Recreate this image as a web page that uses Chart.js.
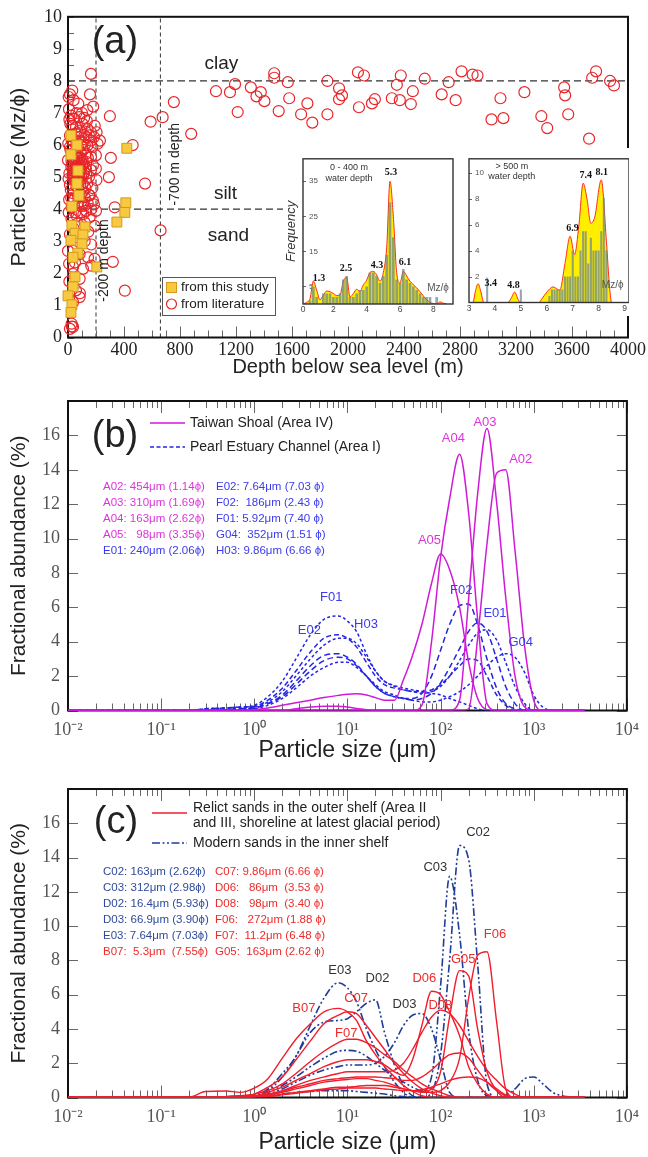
<!DOCTYPE html>
<html>
<head>
<meta charset="utf-8">
<script src="https://cdn.jsdelivr.net/npm/chart.js@4.4.1/dist/chart.umd.min.js"></script>
<style>
  html, body { margin: 0; padding: 0; background: #fff; }
  #page { position: relative; width: 648px; height: 1157px; overflow: hidden; background: #fff; }
  #page canvas { position: absolute; }
</style>
</head>
<body>
<div id="page">
  <canvas id="chart-a" width="648" height="380" style="left:0px;top:0px"></canvas>
  <canvas id="inset-shallow" width="172" height="168" style="left:283px;top:148px"></canvas>
  <canvas id="inset-deep" width="174" height="168" style="left:455px;top:148px"></canvas>
  <canvas id="chart-b" width="648" height="385" style="left:0px;top:380px"></canvas>
  <canvas id="chart-c" width="648" height="392" style="left:0px;top:765px"></canvas>
</div>
<script>
const SANS = '"Liberation Sans", Arial, sans-serif';
const SERIF = '"Liberation Serif", "Times New Roman", serif';

// ---------- (a) mean grain size vs water depth ----------
const studyPts = [[21,6.3],[64,6.0],[21,5.7],[71,5.2],[64,4.8],[78,4.43],[28,4.09],[28,3.5],[121,3.45],[50,3.25],
  [107,3.2],[21,3.03],[100,2.92],[71,2.63],[36,2.5],[206,2.2],[50,1.89],[36,1.58],[0,1.3],[28,1.02],
  [21,0.78],[420,5.9],[413,4.2],[406,3.9],[349,3.6]];

const literaturePts = [
  [164,8.22],[14,7.58],[157,7.58],[73,7.29],[7,7.12],[138,7.09],[40,7.4],[100,7.0],[180,7.2],[115,6.85],
  [21,6.92],[45,6.82],[81,6.87],[17,6.66],[104,6.66],[57,6.56],[140,6.5],[191,6.6],[30,6.6],[97,6.4],
  [164,6.4],[204,6.4],[14,6.3],[128,6.25],[185,6.25],[150,6.3],[75,6.25],[228,6.14],[164,6.14],[104,6.09],
  [60,6.1],[211,6.04],[138,5.99],[90,6.0],[120,6.0],[14,5.94],[174,5.94],[90,5.78],[68,5.75],[128,5.73],
  [36,5.63],[164,5.63],[199,5.68],[88,5.6],[60,5.6],[45,5.55],[0,5.53],[104,5.53],[131,5.48],[25,5.5],
  [75,5.45],[30,5.4],[178,5.37],[55,5.35],[100,5.35],[24,5.32],[70,5.3],[90,5.27],[128,5.27],[199,5.27],
  [40,5.25],[164,5.22],[85,5.2],[35,5.2],[48,5.17],[115,5.15],[10,5.12],[65,5.1],[110,5.07],[42,5.05],
  [80,5.05],[150,5.01],[95,5.0],[36,4.96],[90,4.91],[203,4.91],[50,4.9],[58,4.85],[138,4.81],[105,4.8],
  [14,4.76],[60,4.71],[174,4.66],[125,4.65],[20,4.6],[110,4.56],[36,4.5],[150,4.45],[154,4.43],[73,4.4],
  [119,4.38],[178,4.27],[95,4.25],[73,4.22],[140,4.2],[185,4.15],[119,4.11],[26,4.06],[166,4.0],[200,3.95],
  [130,3.95],[97,3.9],[110,3.85],[62,3.79],[154,3.74],[25,3.7],[119,3.59],[190,3.48],[40,3.4],[14,3.22],
  [50,3.12],[119,3.0],[166,2.9],[36,2.7],[0,2.7],[83,2.6],[143,2.5],[190,2.45],[50,2.34],[36,2.2],
  [166,2.24],[107,2.14],[36,1.98],[83,1.83],[57,1.47],[85,1.38],[83,1.26],[36,1.1],[26,0.43],[36,0.33],
  [14,0.27],[28,0.34],
  [52,5.45],[62,5.25],[78,5.35],[95,5.5],[47,5.0],[67,4.95],[82,5.6],[58,5.7],[32,5.05],[112,5.4],
  [72,4.65],[45,4.3],[88,4.75],[100,4.1],[55,6.35],[85,6.45],[26,6.15],[118,6.3],[10,6.8],[5,7.5],
  [8,4.3],[5,3.9],[8,2.3],[10,1.75],[60,7.0],[135,6.75],[30,7.7],[50,3.9],[68,3.55],[145,3.3],
  [2,6.05],[4,4.95],[18,5.85],[92,4.45],[108,5.85],[23,4.35],[130,5.1],[142,5.6],[40,6.1],[70,5.95],
  [299,6.9],[306,5.6],[292,5.0],[334,4.06],[320,2.36],[406,1.46],[462,6.0],[550,4.8],[590,6.73],[676,6.87],
  [756,7.34],[661,3.34],[880,6.35],[1057,7.68],[1157,7.65],[1193,7.9],[1212,7.03],[1306,7.8],[1346,7.52],[1377,7.65],
  [1403,7.37],[1505,7.06],[1473,8.24],[1473,8.1],[1570,7.96],[1580,7.46],[1665,6.96],[1710,7.3],[1745,6.7],[1853,6.96],
  [1853,8.0],[1936,7.77],[1957,7.55],[1936,7.43],[2071,8.27],[2114,8.17],[2078,7.18],[2171,7.3],[2192,7.43],[2313,7.46],
  [2349,7.88],[2377,8.17],[2370,7.4],[2449,7.28],[2463,7.68],[2548,8.07],[2669,7.58],[2719,7.96],[2769,7.4],[2811,8.3],
  [2890,8.2],[2925,8.17],[3025,6.8],[3089,7.46],[3110,6.84],[3260,7.65],[3381,6.9],[3423,6.53],[3544,7.8],[3551,7.55],
  [3573,6.96],[3722,6.2],[3744,8.1],[3772,8.3],[3872,8.0],[3900,7.86]
];

// inset: 0-400 m water depth
const shallowPhi = [0.2,0.4,0.6,0.8,1.0,1.2,1.4,1.6,1.8,2.0,2.2,2.4,2.6,2.8,3.0,3.2,3.4,3.6,3.8,4.0,4.2,4.4,
  4.6,4.8,5.0,5.2,5.4,5.6,5.8,6.0,6.2,6.4,6.6,6.8,7.0,7.2,7.4,7.6,7.8,8.0,8.2,8.4,8.6,8.8];
const shallowCounts = [0,0,1,5,2,0,3,3,3,2,2,3,7,8,2,2,3,4,4,5,9,9,
  8,6,8,14,29,19,7,6,10,7,6,5,4,3,2,2,2,0,2,0,0,0];
const shallowDensity = [0,0.5,1.5,6.5,4.0,1.2,2.5,3.7,3.5,3.0,2.4,2.6,6.5,7.6,2.0,3.0,4.2,3.6,5.5,6.8,9.0,9.3,
  8.3,6.5,9.0,16,35,25,9,6,9.3,8,6.5,5.5,4.6,3.5,2.3,1.2,0.5,0.1,0,0.6,0.2,0];

// inset: > 500 m water depth
const deepPhi = [3.7,5.0,6.1,6.2,6.3,6.4,6.5,6.6,6.7,6.8,6.9,7.0,7.1,7.2,7.3,7.4,7.5,7.6,7.7,7.8,7.9,8.0,8.1,8.2,8.3];
const deepCounts = [1.9,1.0,0.5,1,1,1,1,1,2,2,2,4,2,2,4,5.5,5.5,3,5,4,4,4,5.5,8.1,4];
const deepCurvePhi = [3.0,3.15,3.25,3.35,3.45,3.57,3.7,4.5,4.62,4.76,4.9,5.0,5.7,5.8,6.0,6.24,6.5,6.7,6.9,7.07,
  7.24,7.4,7.55,7.7,7.85,8.1,8.3,8.42,8.5,9.0];
const deepCurveFreq = [0,0,0.9,1.45,0.9,0,0,0,0.3,0.8,0.2,0,0,0.25,0.8,1.2,0.95,3.0,5.1,3.7,
  6.0,9.2,8.0,6.1,6.6,9.45,4.7,1.2,0,0];

// ---------- (b), (c) grain size distributions ----------
const sizeGrid = [0.01,0.1,0.2,0.3,0.5,0.7,1,1.4,2,2.8,
  4,5.6,8,10,12.5,16,20,25,32,40,
  50,63,80,100,125,160,200,250,315,400,
  500,630,800,1000,1250,1600,2000,3500];
const sizeTicks = [0.01,0.1,1,10,100,1000,10000];
const sizeTickLabels = ['10⁻²','10⁻¹','10⁰','10¹','10²','10³','10⁴'];

// Taiwan Shoal (Area IV)
const A02 = [0,0,0,0,0,0,0,0,0,0, 0,0,0,0,0,0,0,0,0,0, 0,0,0,0,0,0,0.1,4.2,9.7,13.8, 14.0,9.3,3.7,0.6,0,0,0,0];
const A03 = [0,0,0,0,0,0,0,0,0,0, 0,0,0,0,0,0,0,0,0,0, 0,0,0,0,0,0.6,6.5,12.6,16.4,12.1, 6.6,2.0,0.2,0,0,0,0,0];
const A04 = [0,0,0,0,0,0,0,0,0,0.1, 0.2,0.25,0.25,0.2,0.12,0.05,0,0,0,0, 0,0.3,4.0,8.9,12.3,14.9,11.5,5.3,0.4,0, 0,0,0,0,0,0,0,0];
const A05 = [0,0,0,0,0,0,0.05,0.15,0.3,0.45, 0.6,0.75,0.88,0.95,0.97,0.9,0.75,0.6,0.6,1.8, 3.2,5.0,7.4,9.1,8.2,6.0,2.8,0.7,0.05,0, 0,0,0,0,0,0,0,0];
// Pearl Estuary Channel (Area I)
const F01 = [0,0,0,0.1,0.15,0.2,0.3,0.8,1.7,3.0, 4.4,5.3,5.5,5.2,4.6,3.3,2.3,1.7,1.45,1.3, 1.2,1.1,1.0,0.9,0.7,0.5,0.3,0.1,0,0, 0,0,0,0,0,0,0,0];
const E02 = [0,0,0,0.1,0.15,0.2,0.25,0.6,1.3,2.3, 3.4,4.2,4.4,4.2,3.7,2.8,2.0,1.5,1.3,1.2, 1.1,1.1,1.2,1.5,2.0,2.6,3.0,2.9,2.0,0.9, 0.3,0,0,0,0,0,0,0];
const H03 = [0,0,0,0.05,0.1,0.15,0.2,0.5,1.1,2.0, 3.0,3.8,4.2,4.2,3.9,3.1,2.3,1.7,1.4,1.2, 1.1,1.0,1.1,1.4,2.0,2.9,3.8,4.5,4.7,4.1, 2.8,1.4,0.4,0,0,0,0,0];
const F02 = [0,0,0,0,0.05,0.1,0.15,0.4,0.9,1.7, 2.6,3.2,3.3,3.1,2.7,2.0,1.4,1.0,0.8,0.7, 0.7,1.0,2.0,3.5,5.0,6.1,6.2,5.0,3.0,1.3, 0.4,0.1,0,0,0,0,0,0];
const E01 = [0,0,0,0,0.05,0.1,0.15,0.4,0.8,1.5, 2.3,2.9,3.1,3.0,2.6,2.0,1.4,1.0,0.8,0.7, 0.6,0.7,1.0,1.6,2.5,3.6,4.6,5.1,4.6,3.0, 1.4,0.4,0,0,0,0,0,0];
const G04 = [0,0,0,0,0,0.05,0.1,0.3,0.7,1.3, 2.0,2.5,2.8,2.8,2.5,2.0,1.5,1.1,0.9,0.7, 0.6,0.5,0.5,0.6,0.8,1.1,1.5,2.0,2.6,3.1, 3.3,3.1,2.2,0.9,0.2,0,0,0];

// relict sands, outer shelf (Area II and III)
const B07 = [0,0,0.02,0.35,0.38,0.3,0.55,1.1,2.3,3.4, 4.3,5.0,5.2,5.0,4.5,3.3,2.5,1.8,1.2,0.7, 0.35,0.1,0,0,0,0,0,0,0,0, 0,0,0,0,0,0,0,0];
const C07 = [0,0,0,0,0.05,0.1,0.2,0.6,1.2,2.2, 3.3,4.3,4.8,5.0,4.9,4.2,3.5,2.8,2.0,1.4, 0.9,0.5,0.25,0.1,0,0,0,0,0,0, 0,0,0,0,0,0,0,0];
const F07 = [0,0,0,0,0.05,0.1,0.2,0.4,0.8,1.4, 2.1,2.7,3.2,3.4,3.4,3.2,2.9,2.5,2.1,1.6, 1.2,0.8,0.5,0.3,0.1,0,0,0,0,0, 0,0,0,0,0,0,0,0];
const D06 = [0,0,0,0,0,0.05,0.1,0.3,0.6,1.0, 1.4,1.8,2.1,2.2,2.2,2.2,2.1,1.9,1.5,1.3, 2.2,4.2,6.2,6.0,5.0,3.6,1.8,0.8,0.2,0, 0,0,0,0,0,0,0,0];
const D08 = [0,0,0,0,0,0.05,0.1,0.2,0.4,0.7, 1.0,1.2,1.4,1.5,1.5,1.5,1.5,1.5,1.6,2.0, 2.8,3.8,4.7,5.1,4.9,4.2,3.3,2.4,1.6,1.0, 0.5,0.2,0,0,0,0,0,0];
const G05 = [0,0,0,0,0,0,0.05,0.15,0.3,0.5, 0.7,0.9,1.0,1.05,1.1,1.1,1.0,0.9,0.7,0.5, 0.4,0.35,0.5,1.5,4.7,7.4,7.1,4.0,1.5,0.4, 0,0,0,0,0,0,0,0];
const F06 = [0,0,0,0,0,0,0.05,0.1,0.2,0.3, 0.4,0.5,0.6,0.6,0.65,0.7,0.7,0.7,0.6,0.5, 0.4,0.3,0.3,0.4,0.9,2.3,5.8,8.3,8.5,4.4, 0.5,0,0,0,0,0,0,0];
const relictX = [0,0,0,0,0,0,0.05,0.15,0.35,0.6, 0.8,1.0,1.1,1.15,1.2,1.2,1.2,1.15,1.1,1.0, 1.0,1.2,1.6,2.1,2.5,2.6,2.3,1.6,0.9,0.4, 0.1,0,0,0,0,0,0,0];
const relictY = [0,0,0,0,0,0,0,0.05,0.15,0.25, 0.35,0.45,0.5,0.55,0.55,0.55,0.55,0.5,0.45,0.4, 0.4,0.45,0.6,0.8,1.0,1.15,1.2,1.15,0.9,0.5, 0.15,0,0,0,0,0,0,0];
// modern sands, inner shelf
const C02 = [0,0,0,0,0,0,0,0.1,0.2,0.3, 0.35,0.4,0.4,0.4,0.35,0.3,0.25,0.2,0.1,0.05, 0,0,0.3,2.5,8.0,14.7,13.9,7.8,0.8,0, 0.1,0.5,1.1,1.2,0.8,0.3,0.1,0];
const C03 = [0,0,0,0,0,0,0.1,0.3,0.7,1.2, 1.8,2.3,2.7,2.75,2.7,2.4,2.0,1.6,1.2,0.9, 0.6,0.4,1.2,6.5,12.9,9.5,3.9,1.0,0.1,0, 0,0,0,0,0,0,0,0];
const D02 = [0,0,0,0,0,0,0.1,0.4,1.2,2.4, 3.8,4.4,4.5,4.6,5.0,5.5,5.7,3.8,1.9,0.7, 0.1,0,0,0,0,0,0,0,0,0, 0,0,0,0,0,0,0,0];
const E03 = [0,0,0,0,0,0,0.1,0.5,1.4,2.4, 4.2,5.8,6.7,6.4,5.6,4.0,2.8,1.8,0.9,0.3, 0,0,0,0,0,0,0,0,0,0, 0,0,0,0,0,0,0,0];
const D03 = [0,0,0,0,0,0,0.05,0.2,0.5,0.9, 1.3,1.6,1.8,1.9,1.9,1.9,2.0,2.4,3.2,4.2, 4.8,4.9,4.0,2.2,0.3,0,0,0,0,0, 0,0,0,0,0,0,0,0];

// ---------- helpers ----------
function range(a, b, step) {
  const out = [];
  for (let v = a; v <= b + 1e-9; v += step) out.push(+v.toFixed(4));
  return out;
}
const logMinor = [];
for (let e = -2; e < 4; e++) for (let k = 2; k < 10; k++) logMinor.push(k * Math.pow(10, e));

function decor(cfg) {
  const frame = (chart) => {
    const {ctx, chartArea: a} = chart;
    ctx.save();
    ctx.strokeStyle = cfg.frameColor || '#111';
    ctx.lineWidth = cfg.frameWidth || 2;
    ctx.strokeRect(a.left, a.top, a.right - a.left, a.bottom - a.top);
    ctx.restore();
  };
  return {
    id: 'decor',
    beforeDraw(chart) {
      if (!cfg.bg) return;
      chart.ctx.save();
      chart.ctx.fillStyle = cfg.bg;
      chart.ctx.fillRect(0, 0, chart.width, chart.height);
      chart.ctx.restore();
    },
    beforeDatasetsDraw(chart) {
      const {ctx, chartArea: a, scales} = chart;
      ctx.save();
      (cfg.refLines || []).forEach(l => {
        ctx.beginPath();
        ctx.setLineDash(l.dash);
        ctx.strokeStyle = '#333';
        ctx.lineWidth = l.width || 1.2;
        ctx.moveTo(scales.x.getPixelForValue(l.x1), scales.y.getPixelForValue(l.y1));
        ctx.lineTo(scales.x.getPixelForValue(l.x2), scales.y.getPixelForValue(l.y2));
        ctx.stroke();
      });
      ctx.setLineDash([]);
      ctx.strokeStyle = cfg.tickColor || '#666';
      ctx.lineWidth = 1;
      (cfg.marks || []).forEach(m => {
        const sc = scales[m.axis];
        m.at.forEach(v => {
          const p = Math.round(sc.getPixelForValue(v)) + 0.5;
          ctx.beginPath();
          if (m.side === 'bottom') { ctx.moveTo(p, a.bottom); ctx.lineTo(p, a.bottom - m.len); }
          if (m.side === 'top') { ctx.moveTo(p, a.top); ctx.lineTo(p, a.top + m.len); }
          if (m.side === 'left') { ctx.moveTo(a.left, p); ctx.lineTo(a.left + m.len, p); }
          if (m.side === 'right') { ctx.moveTo(a.right, p); ctx.lineTo(a.right - m.len, p); }
          ctx.stroke();
        });
      });
      ctx.restore();
      if (!cfg.frameOnTop) frame(chart);
    },
    afterDatasetsDraw(chart) {
      if (cfg.frameOnTop) frame(chart);
    },
    afterDraw(chart) {
      const {ctx, scales} = chart;
      if (cfg.extra) cfg.extra(ctx, chart);
      (cfg.texts || []).forEach(t => {
        const x = t.px ? t.x : scales.x.getPixelForValue(t.x);
        const y = t.px ? t.y : scales.y.getPixelForValue(t.y);
        ctx.save();
        ctx.font = t.font;
        ctx.fillStyle = t.color || '#222';
        ctx.textAlign = t.align || 'center';
        ctx.textBaseline = 'middle';
        ctx.translate(x, y);
        if (t.rot) ctx.rotate(t.rot);
        ctx.fillText(t.s, 0, 0);
        ctx.restore();
      });
    }
  };
}

function seg(ctx, x1, x2, y, color, width, dash) {
  ctx.save();
  ctx.beginPath();
  ctx.setLineDash(dash || []);
  ctx.strokeStyle = color;
  ctx.lineWidth = width;
  ctx.moveTo(x1, y);
  ctx.lineTo(x2, y);
  ctx.stroke();
  ctx.restore();
}

const baseOpts = {
  responsive: false,
  animation: false,
  devicePixelRatio: 1,
  events: [],
  plugins: { legend: { display: false }, tooltip: { enabled: false } }
};

// ---------- panel (a) ----------
new Chart(document.getElementById('chart-a'), {
  type: 'scatter',
  data: {
    datasets: [{
      label: 'from this study',
      data: studyPts.map(([x, y]) => ({x, y})),
      pointStyle: 'rect',
      pointRadius: 7,
      backgroundColor: '#f8c840',
      borderColor: '#d39a1c',
      borderWidth: 1,
      clip: false
    }, {
      label: 'from literature',
      data: literaturePts.map(([x, y]) => ({x, y})),
      pointStyle: 'circle',
      pointRadius: 5.5,
      backgroundColor: 'rgba(0,0,0,0)',
      borderColor: '#e8262a',
      borderWidth: 1.2,
      clip: false
    }]
  },
  options: {
    ...baseOpts,
    layout: { padding: { top: 14.5, right: 18, left: 0, bottom: 0 } },
    scales: {
      x: {
        type: 'linear', min: 0, max: 4000,
        afterFit: s => { s.height = 42.5; },
        grid: { display: false, drawTicks: false }, border: { display: false },
        ticks: { stepSize: 400, padding: 2, autoSkip: false, maxRotation: 0, color: '#222',
                 font: { family: SERIF, size: 18 }, callback: v => String(v) },
        title: { display: true, text: 'Depth below sea level (m)', color: '#222',
                 font: { family: SANS, size: 20 }, padding: { top: 0, bottom: 1 } }
      },
      y: {
        min: 0, max: 10,
        afterFit: s => { s.width = 68; },
        grid: { display: false, drawTicks: false }, border: { display: false },
        ticks: { stepSize: 1, padding: 6, color: '#222', font: { family: SERIF, size: 18 } },
        title: { display: true, text: 'Particle size (Mz/ϕ)', color: '#222',
                 font: { family: SANS, size: 21 }, padding: { top: 7 } }
      }
    }
  },
  plugins: [decor({
    refLines: [
      { x1: 0, y1: 8, x2: 4000, y2: 8, dash: [7, 4] },
      { x1: 0, y1: 4, x2: 1545, y2: 4, dash: [7, 4] },
      { x1: 200, y1: 0, x2: 200, y2: 10, dash: [4, 3], width: 1 },
      { x1: 660, y1: 0, x2: 660, y2: 10, dash: [4, 3], width: 1 }
    ],
    marks: [
      { axis: 'x', side: 'bottom', at: range(0, 4000, 100), len: 7 },
      { axis: 'x', side: 'bottom', at: range(0, 4000, 400), len: 11 },
      { axis: 'y', side: 'left', at: range(0, 10, 0.5), len: 6 }
    ],
    texts: [
      { s: '(a)', x: 335, y: 9.21, font: '38px ' + SANS },
      { s: 'clay', x: 1096, y: 8.53, font: '19px ' + SANS },
      { s: 'silt', x: 1125, y: 4.47, font: '19px ' + SANS },
      { s: 'sand', x: 1146, y: 3.17, font: '19px ' + SANS },
      { s: '-200 m depth', x: 256, y: 2.4, font: '14px ' + SANS, rot: -Math.PI / 2 },
      { s: '-700 m depth', x: 762, y: 5.4, font: '14px ' + SANS, rot: -Math.PI / 2 },
      { s: 'from this study', x: 181, y: 287, px: true, align: 'left', font: '13.5px ' + SANS },
      { s: 'from literature', x: 181, y: 304, px: true, align: 'left', font: '13.5px ' + SANS }
    ],
    extra: (ctx) => {
      ctx.save();
      ctx.fillStyle = '#fff';
      ctx.fillRect(162, 277, 113, 38);
      ctx.strokeStyle = '#555';
      ctx.lineWidth = 1;
      ctx.strokeRect(162.5, 277.5, 113, 38);
      ctx.fillStyle = '#f8c840';
      ctx.strokeStyle = '#d39a1c';
      ctx.fillRect(166.5, 282.5, 10, 10);
      ctx.strokeRect(166.5, 282.5, 10, 10);
      ctx.beginPath();
      ctx.arc(171.5, 304, 5, 0, 2 * Math.PI);
      ctx.strokeStyle = '#e8262a';
      ctx.lineWidth = 1.2;
      ctx.stroke();
      ctx.restore();
    }
  })]
});

// ---------- insets ----------
function inset(id, o) {
  new Chart(document.getElementById(id), {
    type: 'bar',
    data: {
      datasets: [{
        type: 'bar',
        data: o.binX.map((x, i) => ({x, y: o.binY[i]})),
        backgroundColor: 'rgba(105,135,150,0.72)',
        barPercentage: 0.8,
        categoryPercentage: 1
      }, {
        type: 'line',
        data: o.curveX.map((x, i) => ({x, y: o.curveY[i]})),
        borderColor: '#ff2a1a',
        borderWidth: 1,
        backgroundColor: '#ffee00',
        fill: 'origin',
        pointRadius: 0,
        cubicInterpolationMode: 'monotone'
      }]
    },
    options: {
      ...baseOpts,
      layout: { padding: { top: 7, right: o.padRight, left: 0, bottom: 0 } },
      scales: {
        x: {
          type: 'linear', min: o.xMin, max: o.xMax, offset: false,
          afterFit: s => { s.height = o.xHeight; },
          afterBuildTicks: s => { s.ticks = o.xTicks.map(v => ({value: v})); },
          grid: { display: false, drawTicks: false }, border: { display: false },
          ticks: { padding: 1, color: '#444', font: { family: SANS, size: 8.5 }, autoSkip: false, maxRotation: 0,
                   callback: v => (v < 1 ? '0' : String(v)) }
        },
        y: {
          min: 0, max: o.yMax,
          afterFit: s => { s.width = o.yWidth; },
          afterBuildTicks: s => { s.ticks = o.yTicks.map(v => ({value: v})); },
          grid: { display: false, drawTicks: false }, border: { display: false },
          ticks: { mirror: true, padding: 6, color: '#555', font: { family: SANS, size: 8 } },
          title: { display: !!o.yTitle, text: o.yTitle || '', color: '#333',
                   font: { family: SANS, size: 13, style: 'italic' }, padding: { top: 1 } }
        }
      }
    },
    plugins: [decor({
      bg: '#fff',
      frameOnTop: true,
      frameColor: '#333',
      frameWidth: 1.4,
      marks: [{ axis: 'y', side: 'left', at: o.yTicks, len: 3 }],
      texts: o.texts
    })]
  });
}

const peakFont = 'bold 10px ' + SERIF;
inset('inset-shallow', {
  binX: shallowPhi, binY: shallowCounts, curveX: shallowPhi, curveY: shallowDensity,
  xMin: 0.18, xMax: 9.18, xTicks: [0.18, 2, 4, 6, 8], xHeight: 12,
  yMax: 41.4, yTicks: [5, 15, 25, 35], yWidth: 20, padRight: 2, yTitle: 'Frequency',
  texts: [
    { s: '0 - 400 m', x: 2.94, y: 38.9, font: '9px ' + SANS, color: '#333' },
    { s: 'water depth', x: 2.94, y: 35.8, font: '9px ' + SANS, color: '#333' },
    { s: '1.3', x: 1.14, y: 7.4, font: peakFont, color: '#111' },
    { s: '2.5', x: 2.76, y: 10.1, font: peakFont, color: '#111' },
    { s: '4.3', x: 4.62, y: 11.1, font: peakFont, color: '#111' },
    { s: '5.3', x: 5.46, y: 37.6, font: peakFont, color: '#111' },
    { s: '6.1', x: 6.3, y: 11.9, font: peakFont, color: '#111' },
    { s: 'Mz/ϕ', x: 8.28, y: 4.4, font: '10px ' + SANS, color: '#555' }
  ]
});

inset('inset-deep', {
  binX: deepPhi, binY: deepCounts, curveX: deepCurvePhi, curveY: deepCurveFreq,
  xMin: 3, xMax: 9.17, xTicks: [3, 4, 5, 6, 7, 8, 9], xHeight: 13.5,
  yMax: 11.08, yTicks: [2, 4, 6, 8, 10], yWidth: 14, padRight: 0,
  texts: [
    { s: '> 500 m', x: 4.65, y: 10.5, font: '9px ' + SANS, color: '#333' },
    { s: 'water depth', x: 4.65, y: 9.7, font: '9px ' + SANS, color: '#333' },
    { s: '3.4', x: 3.84, y: 1.45, font: peakFont, color: '#111' },
    { s: '4.8', x: 4.72, y: 1.3, font: peakFont, color: '#111' },
    { s: '6.9', x: 6.99, y: 5.72, font: peakFont, color: '#111' },
    { s: '7.4', x: 7.5, y: 9.8, font: peakFont, color: '#111' },
    { s: '8.1', x: 8.12, y: 10.0, font: peakFont, color: '#111' },
    { s: 'Mz/ϕ', x: 8.54, y: 1.3, font: '10px ' + SANS, color: '#555' }
  ]
});

// ---------- panels (b) and (c) ----------
function curve(vals, color, dash, width) {
  return {
    data: sizeGrid.map((x, i) => ({x, y: vals[i]})),
    borderColor: color,
    borderDash: dash || [],
    borderWidth: width || 1.5,
    pointRadius: 0,
    fill: false,
    cubicInterpolationMode: 'monotone'
  };
}

function psdChart(id, datasets, extraDecor) {
  new Chart(document.getElementById(id), {
    type: 'line',
    data: { datasets },
    options: {
      ...baseOpts,
      layout: { padding: { top: extraDecor.top, right: 17, left: 0, bottom: 0 } },
      scales: {
        x: {
          type: 'logarithmic', min: 0.01, max: 10000,
          afterFit: s => { s.height = extraDecor.xHeight; },
          afterBuildTicks: s => { s.ticks = sizeTicks.map(v => ({value: v})); },
          grid: { display: false, drawTicks: false }, border: { display: false },
          ticks: { padding: 9, autoSkip: false, maxRotation: 0, color: '#555',
                   font: { family: SERIF, size: 18 }, callback: (v, i) => sizeTickLabels[i] },
          title: { display: true, text: 'Particle size (μm)', color: '#222',
                   font: { family: SANS, size: 23 }, padding: { top: 0, bottom: 1 } }
        },
        y: {
          min: 0, max: 18,
          afterFit: s => { s.width = 68; },
          grid: { display: false, drawTicks: false }, border: { display: false },
          ticks: { stepSize: 2, padding: 8, color: '#555', font: { family: SERIF, size: 18 },
                   callback: v => (v > 17 ? '' : String(v)) },
          title: { display: true, text: 'Fractional abundance (%)', color: '#222',
                   font: { family: SANS, size: 21 }, padding: { top: 7 } }
        }
      }
    },
    plugins: [decor({
      marks: [
        { axis: 'x', side: 'bottom', at: logMinor, len: 7 },
        { axis: 'x', side: 'bottom', at: sizeTicks, len: 12 },
        { axis: 'x', side: 'top', at: logMinor, len: 7 },
        { axis: 'x', side: 'top', at: sizeTicks, len: 12 },
        { axis: 'y', side: 'left', at: range(0, 16, 2), len: 10 },
        { axis: 'y', side: 'right', at: range(0, 16, 2), len: 10 }
      ],
      texts: extraDecor.texts,
      extra: extraDecor.extra
    })]
  });
}

const MAG = '#d01ad8', MAG_TXT = '#dd33dd';
const BLU = '#2424e6', BLU_TXT = '#3a3aee';
const labelFont = '13px ' + SANS;
const noteFont = '11.5px ' + SANS;
const legendFont = '14px ' + SANS;

psdChart('chart-b', [
  curve(A02, MAG), curve(A03, MAG), curve(A04, MAG), curve(A05, MAG),
  curve(F01, BLU, [3, 2.5]), curve(E02, BLU, [5, 3]), curve(H03, BLU, [3, 2.5]),
  curve(F02, BLU, [6, 3.5]), curve(E01, BLU, [6, 3.5]), curve(G04, BLU, [3, 2.5])
], {
  top: 21, xHeight: 54.5,
  texts: [
    { s: '(b)', x: 115, y: 57, px: true, font: '38px ' + SANS },
    { s: 'Taiwan Shoal (Area IV)', x: 190, y: 43, px: true, align: 'left', font: legendFont },
    { s: 'Pearl Estuary Channel (Area I)', x: 190, y: 67, px: true, align: 'left', font: legendFont },
    { s: 'A02: 454μm (1.14ϕ)', x: 103, y: 107, px: true, align: 'left', font: noteFont, color: MAG_TXT },
    { s: 'A03: 310μm (1.69ϕ)', x: 103, y: 123, px: true, align: 'left', font: noteFont, color: MAG_TXT },
    { s: 'A04: 163μm (2.62ϕ)', x: 103, y: 139, px: true, align: 'left', font: noteFont, color: MAG_TXT },
    { s: 'A05:   98μm (3.35ϕ)', x: 103, y: 155, px: true, align: 'left', font: noteFont, color: MAG_TXT },
    { s: 'E01: 240μm (2.06ϕ)', x: 103, y: 171, px: true, align: 'left', font: noteFont, color: BLU_TXT },
    { s: 'E02: 7.64μm (7.03 ϕ)', x: 216, y: 107, px: true, align: 'left', font: noteFont, color: BLU_TXT },
    { s: 'F02:  186μm (2.43 ϕ)', x: 216, y: 123, px: true, align: 'left', font: noteFont, color: BLU_TXT },
    { s: 'F01: 5.92μm (7.40 ϕ)', x: 216, y: 139, px: true, align: 'left', font: noteFont, color: BLU_TXT },
    { s: 'G04:  352μm (1.51 ϕ)', x: 216, y: 155, px: true, align: 'left', font: noteFont, color: BLU_TXT },
    { s: 'H03: 9.86μm (6.66 ϕ)', x: 216, y: 171, px: true, align: 'left', font: noteFont, color: BLU_TXT },
    { s: 'A04', x: 137, y: 15.85, font: labelFont, color: MAG_TXT },
    { s: 'A03', x: 300, y: 16.78, font: labelFont, color: MAG_TXT },
    { s: 'A02', x: 726, y: 14.63, font: labelFont, color: MAG_TXT },
    { s: 'A05', x: 76, y: 9.92, font: labelFont, color: MAG_TXT },
    { s: 'F02', x: 167, y: 7.01, font: labelFont, color: BLU_TXT },
    { s: 'E01', x: 384, y: 5.67, font: labelFont, color: BLU_TXT },
    { s: 'G04', x: 726, y: 3.98, font: labelFont, color: BLU_TXT },
    { s: 'F01', x: 6.7, y: 6.6, font: labelFont, color: BLU_TXT },
    { s: 'H03', x: 15.8, y: 5.03, font: labelFont, color: BLU_TXT },
    { s: 'E02', x: 3.9, y: 4.68, font: labelFont, color: BLU_TXT }
  ],
  extra: (ctx) => {
    seg(ctx, 150, 185, 43, MAG, 1.6);
    seg(ctx, 150, 185, 67, BLU, 1.6, [4, 2.5]);
  }
});

const RED = '#f21d2c', RED_TXT = '#ee2a2a';
const NAVY = '#1f3c96', NAVY_TXT = '#2e4a9a';
const DASHDOT = [8, 2.5, 2, 2.5, 2, 2.5];

psdChart('chart-c', [
  curve(B07, RED, [], 1.4), curve(C07, RED, [], 1.4), curve(F07, RED, [], 1.4), curve(D06, RED, [], 1.4),
  curve(D08, RED, [], 1.4), curve(G05, RED, [], 1.4), curve(F06, RED, [], 1.4),
  curve(relictX, RED, [], 1.4), curve(relictY, RED, [], 1.4),
  curve(C02, NAVY, DASHDOT, 1.6), curve(C03, NAVY, DASHDOT, 1.6), curve(D02, NAVY, DASHDOT, 1.6),
  curve(E03, NAVY, DASHDOT, 1.6), curve(D03, NAVY, DASHDOT, 1.6)
], {
  top: 24, xHeight: 59.5,
  texts: [
    { s: '(c)', x: 116, y: 58, px: true, font: '38px ' + SANS },
    { s: 'Relict sands in the outer shelf (Area II', x: 193, y: 43, px: true, align: 'left', font: legendFont },
    { s: 'and III, shoreline at latest glacial period)', x: 193, y: 58, px: true, align: 'left', font: legendFont },
    { s: 'Modern sands in the inner shelf', x: 193, y: 78, px: true, align: 'left', font: legendFont },
    { s: 'C02: 163μm (2.62ϕ)', x: 103, y: 107, px: true, align: 'left', font: noteFont, color: NAVY_TXT },
    { s: 'C03: 312μm (2.98ϕ)', x: 103, y: 123, px: true, align: 'left', font: noteFont, color: NAVY_TXT },
    { s: 'D02: 16.4μm (5.93ϕ)', x: 103, y: 139, px: true, align: 'left', font: noteFont, color: NAVY_TXT },
    { s: 'D03: 66.9μm (3.90ϕ)', x: 103, y: 155, px: true, align: 'left', font: noteFont, color: NAVY_TXT },
    { s: 'E03: 7.64μm (7.03ϕ)', x: 103, y: 171, px: true, align: 'left', font: noteFont, color: NAVY_TXT },
    { s: 'B07:  5.3μm  (7.55ϕ)', x: 103, y: 187, px: true, align: 'left', font: noteFont, color: RED_TXT },
    { s: 'C07: 9.86μm (6.66 ϕ)', x: 215, y: 107, px: true, align: 'left', font: noteFont, color: RED_TXT },
    { s: 'D06:   86μm  (3.53 ϕ)', x: 215, y: 123, px: true, align: 'left', font: noteFont, color: RED_TXT },
    { s: 'D08:   98μm  (3.40 ϕ)', x: 215, y: 139, px: true, align: 'left', font: noteFont, color: RED_TXT },
    { s: 'F06:   272μm (1.88 ϕ)', x: 215, y: 155, px: true, align: 'left', font: noteFont, color: RED_TXT },
    { s: 'F07:  11.2μm (6.48 ϕ)', x: 215, y: 171, px: true, align: 'left', font: noteFont, color: RED_TXT },
    { s: 'G05:  163μm (2.62 ϕ)', x: 215, y: 187, px: true, align: 'left', font: noteFont, color: RED_TXT },
    { s: 'C02', x: 253, y: 15.46, font: labelFont, color: '#333' },
    { s: 'C03', x: 88, y: 13.45, font: labelFont, color: '#333' },
    { s: 'E03', x: 8.3, y: 7.44, font: labelFont, color: '#333' },
    { s: 'D02', x: 21, y: 6.97, font: labelFont, color: '#333' },
    { s: 'D03', x: 41, y: 5.45, font: labelFont, color: '#333' },
    { s: 'F06', x: 384, y: 9.51, font: labelFont, color: RED_TXT },
    { s: 'G05', x: 175, y: 8.05, font: labelFont, color: RED_TXT },
    { s: 'D06', x: 67, y: 6.97, font: labelFont, color: RED_TXT },
    { s: 'D08', x: 99.5, y: 5.39, font: labelFont, color: RED_TXT },
    { s: 'C07', x: 12.4, y: 5.8, font: labelFont, color: RED_TXT },
    { s: 'F07', x: 9.7, y: 3.74, font: labelFont, color: RED_TXT },
    { s: 'B07', x: 3.4, y: 5.22, font: labelFont, color: RED_TXT }
  ],
  extra: (ctx) => {
    seg(ctx, 152, 187, 48, RED, 1.6);
    seg(ctx, 152, 187, 78, NAVY, 1.6, DASHDOT);
  }
});
</script>
</body>
</html>
